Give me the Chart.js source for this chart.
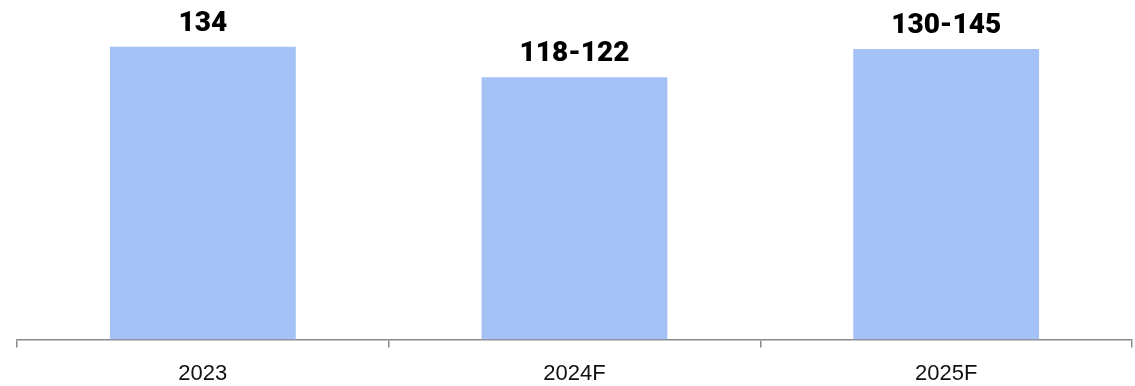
<!DOCTYPE html>
<html>
<head>
<meta charset="utf-8">
<script src="https://cdn.jsdelivr.net/npm/chart.js@4"></script>
<style>
  html, body { margin: 0; padding: 0; background: #fff; }
  #wrap { width: 1135px; height: 386px; position: relative; }
</style>
</head>
<body>
<div id="wrap"><canvas id="chart"></canvas></div>
<script>
const categories = ['2023', '2024F', '2025F'];
const barValues = [134, 120, 133];
const valueLabels = ['134', '118-122', '130-145'];

// labels drawn over each bar
const barLabelPlugin = {
  id: 'barLabels',
  afterDatasetsDraw(chart) {
    const ctx = chart.ctx;
    const meta = chart.getDatasetMeta(0);
    ctx.save();
    ctx.font = '900 28px Roboto';
    ctx.fillStyle = '#000';
    ctx.textAlign = 'center';
    ctx.textBaseline = 'alphabetic';
    meta.data.forEach((bar, i) => {
      ctx.fillText(valueLabels[i], bar.x, bar.y - 16);
    });
    ctx.restore();
  }
};

new Chart(document.getElementById('chart'), {
  type: 'bar',
  data: {
    labels: categories,
    datasets: [{
      data: barValues,
      backgroundColor: '#a4c2f6',
      borderWidth: 0,
      categoryPercentage: 1,
      barPercentage: 0.5
    }]
  },
  options: {
    responsive: true,
    maintainAspectRatio: false,
    animation: false,
    layout: { padding: { left: 17, right: 3, top: 0, bottom: -14 } },
    plugins: { legend: { display: false }, tooltip: { enabled: false } },
    scales: {
      x: {
        grid: {
          offset: true,
          drawOnChartArea: false,
          drawTicks: true,
          tickLength: 8,
          color: '#8a8a8a',
          lineWidth: 1.5
        },
        border: { display: true, color: '#8a8a8a', width: 1.5 },
        ticks: {
          color: '#111',
          font: { family: 'Liberation Sans', size: 22 },
          padding: 13
        }
      },
      y: {
        display: false,
        min: 0,
        max: 155.4
      }
    }
  },
  plugins: [barLabelPlugin]
});
</script>
</body>
</html>
